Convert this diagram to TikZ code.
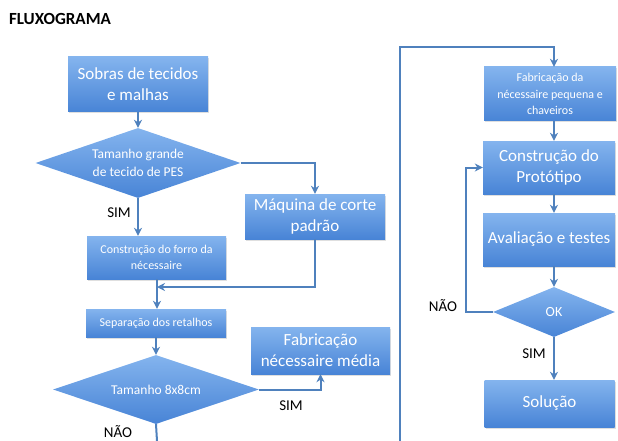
\documentclass[tikz,border=0pt]{standalone}
\usepackage{fontspec}
\setmainfont{Carlito}
\usepackage{tikz}
\usetikzlibrary{shapes.geometric,arrows.meta,shadows}
\definecolor{boxtop}{RGB}{132,180,238}
\definecolor{boxbot}{RGB}{72,132,214}
\definecolor{linkblue}{RGB}{79,129,189}
\begin{document}
\begin{tikzpicture}[x=1pt,y=-1pt,inner sep=0pt, >={Stealth[length=8pt,width=8pt]},
  blk/.style={rectangle,top color=boxtop,bottom color=boxbot,text=white,align=center,
    drop shadow={opacity=0.25,shadow xshift=1pt,shadow yshift=-1.5pt}},
  dec/.style={diamond,top color=boxtop,bottom color=boxbot,text=white,align=center,aspect=2.9,
    font=\fontsize{13.5}{18}\selectfont},
  big/.style={font=\fontsize{17}{21}\selectfont},
  small/.style={font=\fontsize{12}{16.5}\selectfont},
  lnk/.style={draw=linkblue,line width=2pt},
  lbl/.style={font=\fontsize{15}{17}\selectfont}]
\useasboundingbox (0,0) rectangle (618,441);
\node (t) at (60,19) [font=\bfseries\fontsize{17}{19}\selectfont] {FLUXOGRAMA};
\node (sb) at (138,84.5) [blk,big,minimum width=140pt,minimum height=55pt] {Sobras de tecidos\\e malhas};
\node (d1) at (138,163) [dec,minimum width=205pt,minimum height=70pt] {Tamanho grande\\de tecido de PES};
\node (mq) at (315,216.5) [blk,big,minimum width=140pt,minimum height=45pt] {Máquina de corte\\padrão};
\node (cf) at (156.5,257.5) [blk,small,minimum width=139pt,minimum height=43pt] {Construção do forro da\\nécessaire};
\node (sr) at (156,323) [blk,small,minimum width=140pt,minimum height=28pt] {Separação dos retalhos};
\node (d2) at (156,389.5) [dec,minimum width=206pt,minimum height=69pt] {Tamanho 8x8cm};
\node (fm) at (320.5,350.5) [blk,big,minimum width=139pt,minimum height=47pt] {Fabricação\\nécessaire média};
\node (fp) at (550,94) [blk,small,minimum width=132pt,minimum height=54pt] {Fabricação da\\nécessaire pequena e\\chaveiros};
\node (cp) at (549,167.5) [blk,big,minimum width=132pt,minimum height=53pt] {Construção do\\Protótipo};
\node (av) at (549,239.5) [blk,big,minimum width=132pt,minimum height=53pt] {Avaliação e testes};
\node (ok) at (554,312) [dec,minimum width=122pt,minimum height=50pt,aspect=2.4,font=\fontsize{14}{17}\selectfont] {OK};
\node (so) at (549.5,403.5) [blk,big,minimum width=130pt,minimum height=47pt] {Solução};
\node (s1) at (119,213) [lbl] {SIM};
\node (s2) at (291,406) [lbl] {SIM};
\node (n2) at (118,432) [lbl] {NÃO};
\node (n3) at (443,306) [lbl] {NÃO};
\node (s3) at (534,354) [lbl] {SIM};
\coordinate (j) at (157,287);
\coordinate (e1) at (157,441);
\coordinate (e2) at (400,441);
\draw[lnk,->] (sb) -- (d1);
\draw[lnk,->] (d1.east) -| (mq.north);
\draw[lnk,->] (d1.south) -- (d1.south |- cf.north);
\draw[lnk,->] (mq.south) |- (j);
\draw[lnk] (cf.south -| j) -- (j);
\draw[lnk,->] (j) -- (j |- sr.north);
\draw[lnk,->] (sr.south -| d2.north) -- (d2.north);
\draw[lnk,->] (d2.east) -| (fm.south);
\draw[lnk] (d2.south) -- (e1);
\draw[lnk,->] (e2) |- (400,47) -| (fp.north -| ok.north);
\draw[lnk,->] (fp.south -| ok.north) -- (cp.north -| ok.north);
\draw[lnk,->] (cp.south -| ok.north) -- (av.north -| ok.north);
\draw[lnk,->] (av.south -| ok.north) -- (ok.north);
\draw[lnk,->] (ok.west) -| (466,167.5) -- (cp.west);
\draw[lnk,->] (ok.south) -- (ok.south |- so.north);
\end{tikzpicture}
\end{document}
